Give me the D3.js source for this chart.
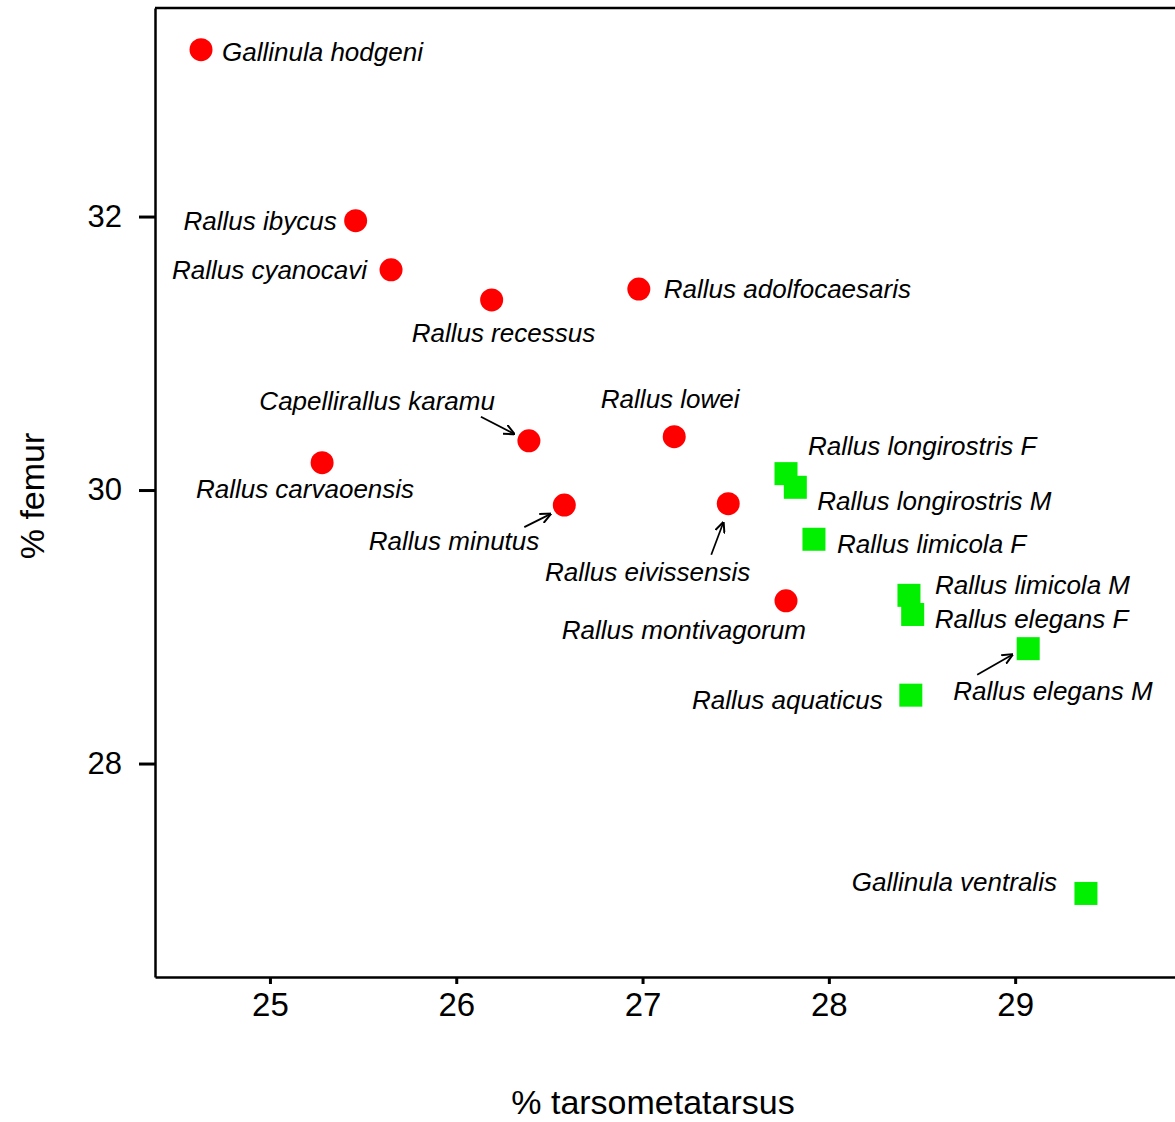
<!DOCTYPE html>
<html>
<head>
<meta charset="utf-8">
<script src="https://cdn.jsdelivr.net/npm/d3@7"></script>
<style>
  body { margin: 0; background: #fff; }
  svg text { font-family: "Liberation Sans", Arial, sans-serif; }
</style>
</head>
<body>
<script>
const species = ["Gallinula hodgeni", "Rallus ibycus", "Rallus cyanocavi", "Rallus recessus",
  "Rallus adolfocaesaris", "Capellirallus karamu", "Rallus lowei", "Rallus carvaoensis",
  "Rallus minutus", "Rallus eivissensis", "Rallus montivagorum",
  "Rallus longirostris F", "Rallus longirostris M", "Rallus limicola F", "Rallus limicola M",
  "Rallus elegans F", "Rallus elegans M", "Rallus aquaticus", "Gallinula ventralis"];
const group = ["extinct", "extinct", "extinct", "extinct", "extinct", "extinct", "extinct", "extinct",
  "extinct", "extinct", "extinct",
  "extant", "extant", "extant", "extant", "extant", "extant", "extant", "extant"];
const tarsometatarsus = [24.63, 25.46, 25.65, 26.19, 26.98, 26.39, 27.17, 25.28, 26.58, 27.46, 27.77,
  27.77, 27.82, 27.92, 28.43, 28.45, 29.07, 28.44, 29.38];
const femur = [33.22, 31.97, 31.61, 31.39, 31.47, 30.36, 30.39, 30.20, 29.89, 29.90, 29.19,
  30.12, 30.02, 29.64, 29.23, 29.09, 28.84, 28.50, 27.05];
const xTicks = [25, 26, 27, 28, 29];
const yTicks = [28, 30, 32];

// label placement (pixel offsets from the point) and leader arrows
const labelPos = [
  [21, 11, "start"], [-19, 9, "end"], [-24, 9, "end"], [-80, 42, "start"],
  [25, 9, "start"], [-34, -31, "end"], [-4, -29, "middle"], [92, 35, "end"],
  [-25, 45, "end"], [22, 77, "end"], [20, 38, "end"],
  [22, -19, "start"], [22, 23, "start"], [23, 14, "start"], [26, -1, "start"],
  [22, 14, "start"], [-75, 51, "start"], [-28, 14, "end"], [-29, -2, "end"]];
const arrows = [
  {name: "Capellirallus karamu", from: [-48, -24], to: [-15, -7]},
  {name: "Rallus minutus", from: [-40, 22], to: [-14, 9]},
  {name: "Rallus eivissensis", from: [-17, 51], to: [-5, 19]},
  {name: "Rallus elegans M", from: [-51, 26], to: [-16, 6]}];

const data = species.map((s, i) => ({name: s, group: group[i], tm: tarsometatarsus[i], fe: femur[i], lp: labelPos[i]}));

const W = 1175, H = 1122;
const mLeft = 155, mTop = 8, mBottom = 977, mRight = 1175;

const svg = d3.select("body").append("svg").attr("width", W).attr("height", H);

const x = d3.scaleLinear().domain([24.383, 29.858]).range([mLeft, mRight]);
const y = d3.scaleLinear().domain([26.439, 33.525]).range([mBottom, mTop]);

// axes
const gx = svg.append("g").attr("transform", `translate(0,${mBottom})`)
  .call(d3.axisBottom(x).tickValues(xTicks).tickSize(7).tickPadding(9).tickSizeOuter(0).tickFormat(d3.format("d")));
const gy = svg.append("g").attr("transform", `translate(${mLeft},0)`)
  .call(d3.axisLeft(y).tickValues(yTicks).tickSize(16).tickPadding(17).tickSizeOuter(0).tickFormat(d3.format("d")));
[gx, gy].forEach(g => {
  g.select(".domain").attr("stroke-width", 2.5);
  g.selectAll(".tick line").attr("stroke-width", 3);
});
gx.selectAll(".tick text").attr("font-size", 33).attr("fill", "#000");
gy.selectAll(".tick text").attr("font-size", 31).attr("fill", "#000");

// top frame line
svg.append("line").attr("x1", mLeft).attr("x2", mRight).attr("y1", mTop).attr("y2", mTop)
  .attr("stroke", "#000").attr("stroke-width", 2.5);

// axis titles
svg.append("text").attr("x", 653).attr("y", 1114).attr("text-anchor", "middle")
  .attr("font-size", 34).text("% tarsometatarsus");
svg.append("text").attr("transform", "translate(44,496) rotate(-90)").attr("text-anchor", "middle")
  .attr("font-size", 34).text("% femur");

// points
svg.selectAll(".dot").data(data.filter(d => d.group === "extinct")).join("circle")
  .attr("cx", d => x(d.tm)).attr("cy", d => y(d.fe)).attr("r", 11.5).attr("fill", "#ff0000");
svg.selectAll(".sq").data(data.filter(d => d.group === "extant")).join("rect")
  .attr("x", d => x(d.tm) - 11.5).attr("y", d => y(d.fe) - 11.5)
  .attr("width", 23).attr("height", 23).attr("fill", "#00f000");

// labels
svg.selectAll(".lab").data(data).join("text")
  .attr("x", d => x(d.tm) + d.lp[0]).attr("y", d => y(d.fe) + d.lp[1])
  .attr("text-anchor", d => d.lp[2])
  .attr("font-size", 26).attr("font-style", "italic").attr("fill", "#000")
  .text(d => d.name);

// arrows
svg.append("defs").append("marker").attr("id", "ah")
  .attr("viewBox", "0 0 10 10").attr("refX", 9).attr("refY", 5)
  .attr("markerWidth", 11).attr("markerHeight", 11).attr("markerUnits", "userSpaceOnUse")
  .attr("orient", "auto")
  .append("path").attr("d", "M0,0.5 L10,5 L0,9.5").attr("fill", "none").attr("stroke", "#000").attr("stroke-width", 1.8);

svg.selectAll(".arr").data(arrows).join("line")
  .each(function(a) {
    const d = data.find(p => p.name === a.name);
    const px = x(d.tm), py = y(d.fe);
    d3.select(this).attr("x1", px + a.from[0]).attr("y1", py + a.from[1])
      .attr("x2", px + a.to[0]).attr("y2", py + a.to[1]);
  })
  .attr("stroke", "#000").attr("stroke-width", 1.8).attr("marker-end", "url(#ah)");
</script>
</body>
</html>
